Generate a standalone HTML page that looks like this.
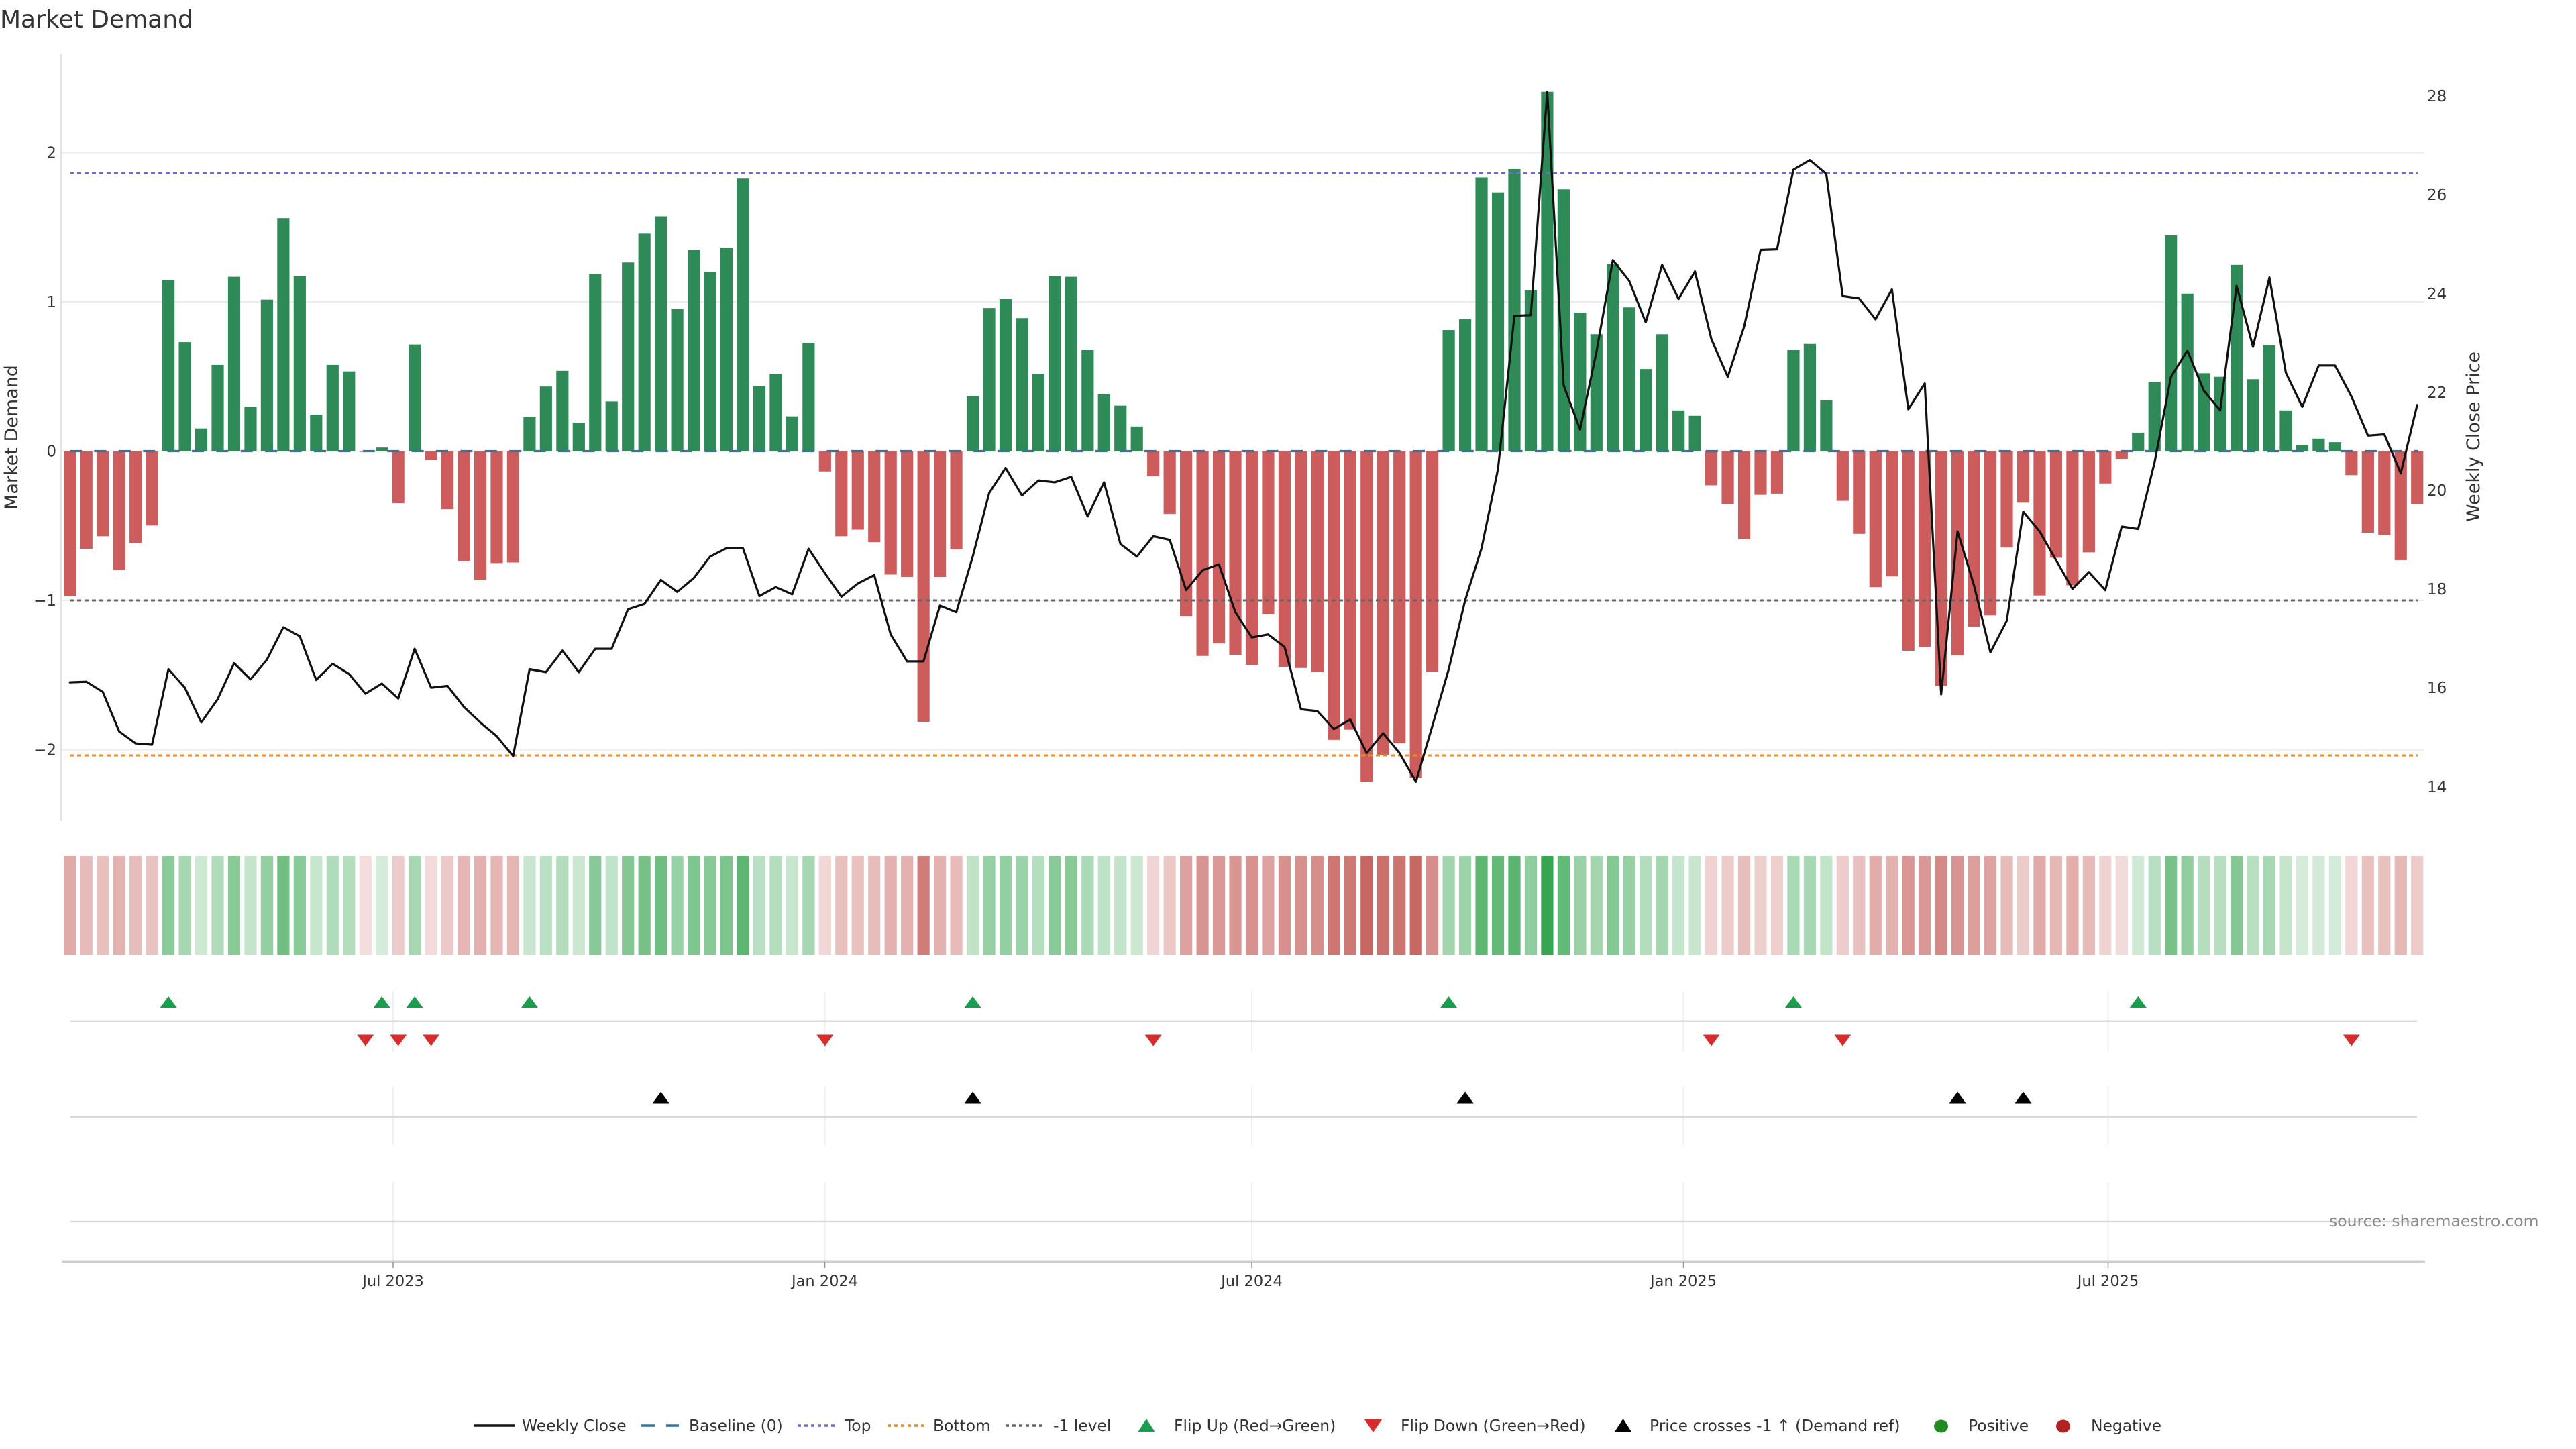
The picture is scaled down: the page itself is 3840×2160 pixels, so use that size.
<!DOCTYPE html>
<html>
<head>
<meta charset="utf-8">
<style>
html,body{margin:0;padding:0;background:#fff;}
svg{display:block;}
text{font-family:"DejaVu Sans","Liberation Sans",sans-serif;}
</style>
</head>
<body>
<svg id="c" width="3840" height="2160" viewBox="0 0 3840 2160" xmlns="http://www.w3.org/2000/svg">
<rect x="0" y="0" width="3840" height="2160" fill="#ffffff"/>
<text x="0" y="41" font-size="36" fill="#333">Market Demand</text>

<!-- main grid -->
<g stroke="#e9edef" stroke-width="2">
<line x1="91" y1="227.5" x2="3614" y2="227.5"/>
<line x1="91" y1="450" x2="3614" y2="450"/>
<line x1="91" y1="672.5" x2="3614" y2="672.5"/>
<line x1="91" y1="895" x2="3614" y2="895"/>
<line x1="91" y1="1117.5" x2="3614" y2="1117.5"/>
</g>
<line x1="91" y1="80" x2="91" y2="1224" stroke="#e3e3e3" stroke-width="2"/>

<g id="bars"></g>
<g id="refs">
<line x1="104" y1="672.5" x2="3604" y2="672.5" stroke="#3274a8" stroke-width="3.2" stroke-dasharray="18 18.4"/>
<line x1="104" y1="258" x2="3604" y2="258" stroke="#7466d6" stroke-width="3" stroke-dasharray="6 5"/>
<line x1="104" y1="895" x2="3604" y2="895" stroke="#666666" stroke-width="3" stroke-dasharray="6 5"/>
<line x1="104" y1="1126" x2="3604" y2="1126" stroke="#f08a24" stroke-width="3" stroke-dasharray="6 5"/>
</g>
<g id="price"></g>
<g id="strip"></g>

<!-- left ticks -->
<g font-size="23" fill="#333" text-anchor="end">
<text x="84" y="235.5">2</text>
<text x="84" y="458">1</text>
<text x="84" y="680.5">0</text>
<text x="84" y="903">−1</text>
<text x="84" y="1125.5">−2</text>
</g>
<text transform="translate(26,652) rotate(-90)" font-size="27" fill="#333" text-anchor="middle">Market Demand</text>

<!-- right ticks -->
<g font-size="23" fill="#333">
<text x="3618" y="151">28</text>
<text x="3618" y="298">26</text>
<text x="3618" y="446">24</text>
<text x="3618" y="593">22</text>
<text x="3618" y="739">20</text>
<text x="3618" y="886">18</text>
<text x="3618" y="1033">16</text>
<text x="3618" y="1181">14</text>
</g>
<text transform="translate(3696,651) rotate(-90)" font-size="27" fill="#333" text-anchor="middle">Weekly Close Price</text>

<!-- marker panels -->
<g stroke="#edf0f2" stroke-width="2">
<line x1="586" y1="1478" x2="586" y2="1568"/><line x1="1229.5" y1="1478" x2="1229.5" y2="1568"/><line x1="1866" y1="1478" x2="1866" y2="1568"/><line x1="2509.5" y1="1478" x2="2509.5" y2="1568"/><line x1="3142.5" y1="1478" x2="3142.5" y2="1568"/>
<line x1="586" y1="1620" x2="586" y2="1707"/><line x1="1229.5" y1="1620" x2="1229.5" y2="1707"/><line x1="1866" y1="1620" x2="1866" y2="1707"/><line x1="2509.5" y1="1620" x2="2509.5" y2="1707"/><line x1="3142.5" y1="1620" x2="3142.5" y2="1707"/>
<line x1="586" y1="1763" x2="586" y2="1880"/><line x1="1229.5" y1="1763" x2="1229.5" y2="1880"/><line x1="1866" y1="1763" x2="1866" y2="1880"/><line x1="2509.5" y1="1763" x2="2509.5" y2="1880"/><line x1="3142.5" y1="1763" x2="3142.5" y2="1880"/>
</g>
<g stroke="#d9d9d9" stroke-width="2.5">
<line x1="104" y1="1522.7" x2="3603" y2="1522.7"/>
<line x1="104" y1="1665" x2="3603" y2="1665"/>
<line x1="104" y1="1821" x2="3603" y2="1821"/>
</g>
<line x1="92" y1="1880.7" x2="3615" y2="1880.7" stroke="#cfcfcf" stroke-width="2.5"/>
<g id="marks"></g>

<!-- x ticks -->
<g stroke="#999" stroke-width="1.6">
<line x1="586" y1="1881" x2="586" y2="1890"/>
<line x1="1229.5" y1="1881" x2="1229.5" y2="1890"/>
<line x1="1866" y1="1881" x2="1866" y2="1890"/>
<line x1="2509.5" y1="1881" x2="2509.5" y2="1890"/>
<line x1="3142.5" y1="1881" x2="3142.5" y2="1890"/>
</g>
<g font-size="22.5" fill="#333" text-anchor="middle">
<text x="586" y="1917">Jul 2023</text>
<text x="1229.5" y="1917">Jan 2024</text>
<text x="1866" y="1917">Jul 2024</text>
<text x="2509.5" y="1917">Jan 2025</text>
<text x="3142.5" y="1917">Jul 2025</text>
</g>
<text x="3472" y="1828" font-size="23.5" fill="#888">source: sharemaestro.com</text>

<!-- legend -->
<g>
<line x1="707" y1="2125" x2="767" y2="2125" stroke="#111" stroke-width="3.5"/>
<line x1="956" y1="2125" x2="976" y2="2125" stroke="#3274a8" stroke-width="3.5"/>
<line x1="993" y1="2125" x2="1012" y2="2125" stroke="#3274a8" stroke-width="3.5"/>
<line x1="1189" y1="2125" x2="1244" y2="2125" stroke="#7466d6" stroke-width="3.5" stroke-dasharray="5 5"/>
<line x1="1323" y1="2125" x2="1377" y2="2125" stroke="#f08a24" stroke-width="3.5" stroke-dasharray="5 5"/>
<line x1="1499" y1="2125" x2="1555" y2="2125" stroke="#666" stroke-width="3.5" stroke-dasharray="5 5"/>
<polygon points="1709,2115 1721.5,2134 1696.5,2134" fill="#1b9e4b"/>
<polygon points="2047,2135 2060,2116 2034,2116" fill="#d92b2b"/>
<polygon points="2419.5,2115 2432,2134 2407,2134" fill="#000"/>
<ellipse cx="2893.5" cy="2126" rx="10.5" ry="9.5" fill="#228b22"/>
<ellipse cx="3075.5" cy="2126" rx="10.5" ry="9.5" fill="#b22222"/>
</g>
<g font-size="23.4" fill="#333">
<text x="778" y="2133">Weekly Close</text>
<text x="1027" y="2133">Baseline (0)</text>
<text x="1259" y="2133">Top</text>
<text x="1391" y="2133">Bottom</text>
<text x="1570" y="2133">-1 level</text>
<text x="1750" y="2133">Flip Up (Red→Green)</text>
<text x="2088" y="2133">Flip Down (Green→Red)</text>
<text x="2459" y="2133">Price crosses -1 ↑ (Demand ref)</text>
<text x="2934" y="2133">Positive</text>
<text x="3117" y="2133">Negative</text>
</g>
</svg>
<script>
(function(){
var V=[-0.971,-0.654,-0.570,-0.795,-0.614,-0.498,1.148,0.730,0.152,0.578,1.168,0.297,1.015,1.561,1.172,0.245,0.578,0.534,-0.005,0.024,-0.349,0.714,-0.060,-0.389,-0.738,-0.863,-0.750,-0.746,0.229,0.433,0.538,0.189,1.188,0.333,1.264,1.457,1.573,0.951,1.348,1.200,1.364,1.826,0.437,0.518,0.233,0.726,-0.136,-0.570,-0.526,-0.610,-0.827,-0.843,-1.814,-0.843,-0.658,0.369,0.959,1.019,0.891,0.518,1.172,1.168,0.678,0.381,0.305,0.165,-0.169,-0.421,-1.108,-1.372,-1.288,-1.364,-1.433,-1.094,-1.445,-1.453,-1.481,-1.934,-1.866,-2.215,-2.034,-1.958,-2.191,-1.477,0.811,0.883,1.834,1.734,1.890,1.079,2.408,1.754,0.927,0.783,1.252,0.963,0.550,0.783,0.273,0.237,-0.229,-0.357,-0.590,-0.293,-0.285,0.678,0.718,0.341,-0.333,-0.554,-0.911,-0.839,-1.337,-1.312,-1.573,-1.368,-1.176,-1.100,-0.646,-0.345,-0.967,-0.714,-0.899,-0.678,-0.217,-0.052,0.124,0.465,1.445,1.055,0.522,0.498,1.248,0.482,0.710,0.273,0.040,0.084,0.060,-0.161,-0.546,-0.562,-0.730,-0.357];
var L=[1072,1071,1088,1154,1174,1176,1050,1081,1139,1100,1040,1067,1034,980,995,1068,1041,1058,1091,1074,1099,1016,1081,1078,1113,1139,1162,1195,1050,1055,1019,1055,1016,1016,950,941,901,921,898,862,848,848,928,913,925,849,890,929,907,893,992,1037,1037,944,955,862,756,714,760,735,738,729,795,738,841,862,828,834,918,885,875,955,997,992,1013,1117,1120,1150,1134,1190,1157,1190,1238,1145,1050,935,848,716,460,459,86,576,650,520,367,402,471,375,432,386,499,562,478,350,349,216,200,223,427,431,466,416,616,573,1092,820,910,1022,969,787,820,868,916,888,918,812,816,705,562,518,585,618,410,512,396,555,612,543,543,595,660,658,723,609];
var NS="http://www.w3.org/2000/svg";
function el(tag,attrs,parent){var e=document.createElementNS(NS,tag);for(var k in attrs)e.setAttribute(k,attrs[k]);parent.appendChild(e);return e;}
var P=24.468,X0=104.3,W=18.2,Y0=672.5,S=222.5;
var bars=document.getElementById('bars'),strip=document.getElementById('strip'),price=document.getElementById('price'),marks=document.getElementById('marks');
var pts=[];
for(var i=0;i<V.length;i++){
  var v=V[i],cx=X0+P*i,x=cx-W/2;
  var h=Math.abs(v)*S;
  if(v>=0){el('rect',{x:x.toFixed(2),y:(Y0-h).toFixed(2),width:W,height:h.toFixed(2),fill:'#2e8b57'},bars);}
  else{el('rect',{x:x.toFixed(2),y:Y0,width:W,height:h.toFixed(2),fill:'#cd5c5c'},bars);}
  var a=0.2+0.8*Math.abs(v)/2.408;
  var b=v>=0?[56,165,81]:[196,92,88];
  var c=b.map(function(t){return Math.round(255-a*(255-t));});
  el('rect',{x:x.toFixed(2),y:1276,width:W,height:148,fill:'rgb('+c.join(',')+')'},strip);
  pts.push(cx.toFixed(2)+','+(60+L[i]/1.12).toFixed(2));
}
el('polyline',{points:pts.join(' '),fill:'none',stroke:'#111','stroke-width':3.2,'stroke-linejoin':'round','stroke-linecap':'round'},price);
function tri(i,cy,up,col){var cx=X0+P*i;var hw=12.5,hh=8.5;
  var p=up?[cx+','+(cy-hh),(cx+hw)+','+(cy+hh),(cx-hw)+','+(cy+hh)]:[cx+','+(cy+hh),(cx+hw)+','+(cy-hh),(cx-hw)+','+(cy-hh)];
  el('polygon',{points:p.join(' '),fill:col},marks);}
[6,19,21,28,55,84,105,126].forEach(function(i){tri(i,1493.5,true,'#1b9e4b');});
[18,20,22,46,66,100,108,139].forEach(function(i){tri(i,1551,false,'#d92b2b');});
[36,55,85,115,119].forEach(function(i){tri(i,1636,true,'#000000');});
})();
</script>
</body>
</html>
